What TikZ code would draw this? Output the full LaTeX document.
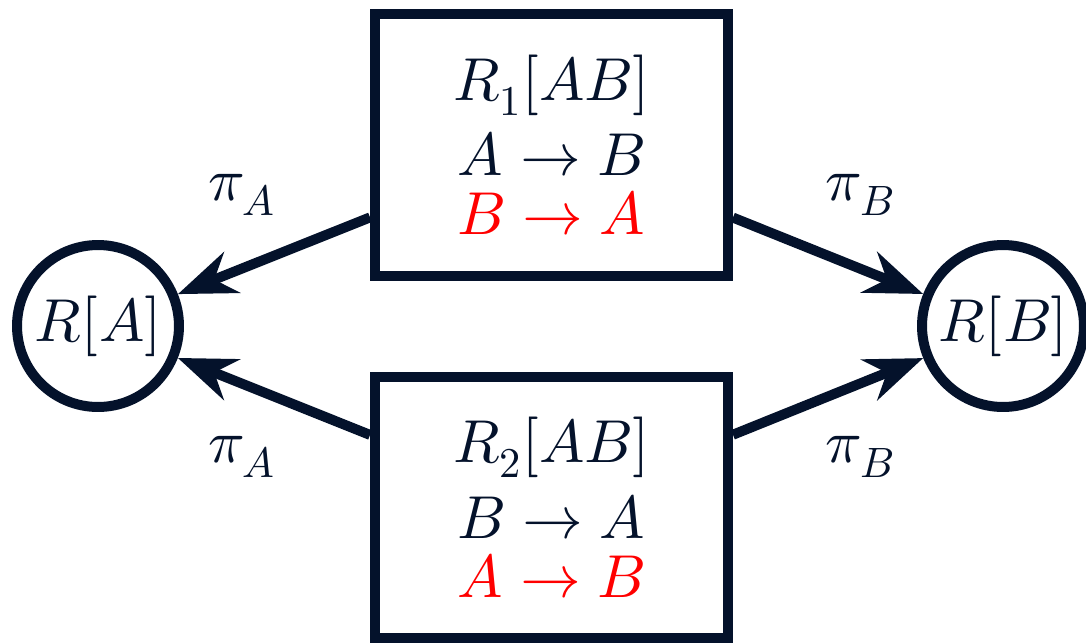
\documentclass[tikz,border=0pt]{standalone}
\usepackage{unicode-math}
\setmathfont{Latin Modern Math}
\usetikzlibrary{arrows.meta, positioning}
\definecolor{InkNavy}{HTML}{04122B}
\definecolor{ClashRed}{HTML}{FF0000}

\begin{document}
\begin{tikzpicture}[x=0.02cm, y=-0.02cm,
    every node/.style={text=InkNavy, font=\fontsize{34.5}{33.4}\selectfont},
    relbox/.style={draw=InkNavy, line width=0.2cm, minimum width=7.06cm,
                   minimum height=5.24cm, inner sep=0pt, align=center},
    projnode/.style={circle, draw=InkNavy, line width=0.2cm,
                     minimum size=3.24cm, inner sep=0pt},
    projarrow/.style={draw=InkNavy, line width=0.2cm, -{Stealth[length=1.16cm]}}]
  \useasboundingbox (0,0) rectangle (1086,643);

  % the two relations
  \node[relbox] (relOne) at (551.5,145) {
    $R_1[AB]$\\[9.7pt]
    $A \to B$\\
    {\color{ClashRed}$B \to A$}};
  \node[relbox] (relTwo) at (551.5,507.5) {
    $R_2[AB]$\\[9.7pt]
    $B \to A$\\
    {\color{ClashRed}$A \to B$}};

  % projections
  \node[projnode] (projA) at (98,326) {$R[A]$};
  \node[projnode] (projB) at (1003,326) {$R[B]$};

  \draw[projarrow] (relOne) -- (projA);
  \draw[projarrow] (relTwo) -- (projA);
  \draw[projarrow] (relOne) -- (projB);
  \draw[projarrow] (relTwo) -- (projB);

  \node (piAup) at (242,195) {$\pi_A$};
  \node (piAdown) at (242,457) {$\pi_A$};
  \node (piBup) at (860,195) {$\pi_B$};
  \node (piBdown) at (860,457) {$\pi_B$};
\end{tikzpicture}
\end{document}
